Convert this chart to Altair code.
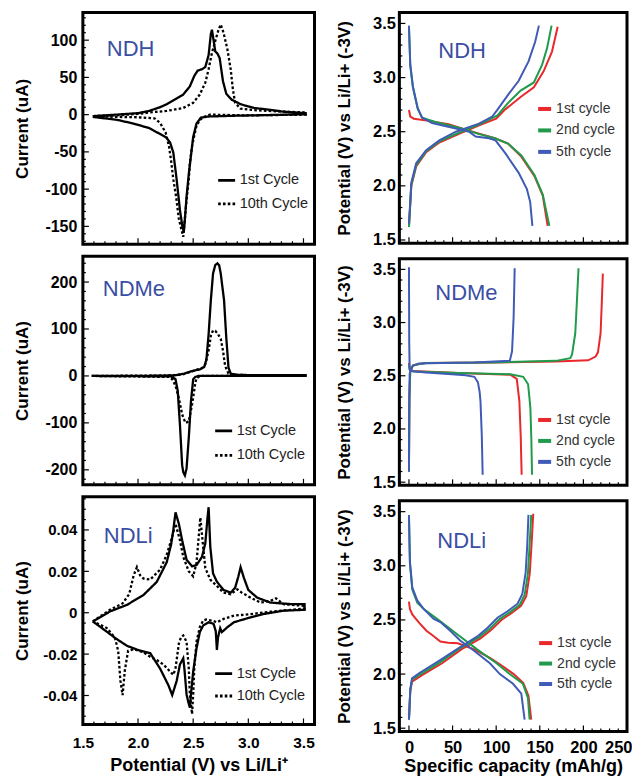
import altair as alt
import pandas as pd

FONT = "Liberation Sans, Arial, Helvetica, sans-serif"

# ---------------- CV data (potential V, current) ----------------
ndh_1st_up = [(1.59, -2), (1.80, 0), (2.00, 2), (2.10, 5), (2.20, 10), (2.26, 14), (2.33, 20), (2.41, 27),
              (2.47, 38), (2.51, 52), (2.54, 59), (2.58, 61), (2.61, 64), (2.64, 80), (2.66, 108), (2.67, 114),
              (2.685, 100), (2.70, 85), (2.72, 82), (2.74, 76), (2.77, 45), (2.80, 28), (2.85, 20), (2.93, 14),
              (3.05, 9), (3.17, 7), (3.32, 4), (3.52, 2)]
ndh_1st_dn = [(3.52, 0.5), (3.2, -0.5), (2.87, -1.5), (2.64, -2.5), (2.57, -4), (2.53, -12), (2.50, -30),
              (2.48, -55), (2.46, -80), (2.44, -110), (2.425, -140), (2.415, -158), (2.40, -148), (2.38, -128),
              (2.35, -87), (2.32, -51), (2.29, -37), (2.25, -30), (2.20, -26), (2.10, -18), (1.96, -12),
              (1.81, -7), (1.59, -3)]
ndh_10th_up = [(1.59, -2), (1.80, -1), (2.00, 1), (2.11, 3), (2.26, 5), (2.41, 9), (2.50, 16), (2.56, 27),
               (2.61, 43), (2.64, 61), (2.67, 83), (2.70, 99), (2.73, 114), (2.75, 121), (2.775, 110),
               (2.81, 88), (2.84, 61), (2.86, 34), (2.88, 16), (2.93, 8), (3.05, 6), (3.32, 4), (3.52, 3)]
ndh_10th_dn = [(3.52, 0), (3.0, -1), (2.65, 0), (2.60, -3), (2.56, -7), (2.53, -15), (2.51, -28), (2.49, -42),
               (2.47, -65), (2.46, -87), (2.44, -115), (2.43, -131), (2.41, -164), (2.39, -152), (2.37, -140),
               (2.345, -110), (2.32, -87), (2.30, -62), (2.28, -42), (2.25, -24), (2.20, -11), (2.15, -5),
               (2.0, -3.5), (1.8, -3), (1.59, -2)]

ndme_1st_up = [(1.58, 0), (2.00, 0), (2.30, 1), (2.35, 2), (2.42, 5), (2.47, 9), (2.52, 12), (2.56, 14),
               (2.60, 19), (2.62, 35), (2.64, 89), (2.66, 161), (2.68, 218), (2.70, 236), (2.72, 240),
               (2.735, 236), (2.75, 218), (2.78, 161), (2.80, 82), (2.82, 18), (2.84, 5), (2.90, 2), (3.52, 1.5)]
ndme_1st_dn = [(3.52, 0), (2.55, 0), (2.52, -2), (2.50, -7), (2.48, -54), (2.46, -132), (2.44, -197),
               (2.425, -212), (2.41, -205), (2.40, -190), (2.38, -104), (2.36, -32), (2.34, -7), (2.30, -1),
               (1.58, 0)]
ndme_10th_up = [(1.58, 0), (2.30, 1), (2.40, 3), (2.47, 8), (2.53, 13), (2.58, 17), (2.61, 25), (2.64, 54),
                (2.66, 86), (2.68, 97), (2.70, 96), (2.72, 91), (2.75, 79), (2.77, 54), (2.79, 21), (2.82, 5),
                (2.90, 2), (3.52, 1.5)]
ndme_10th_dn = [(3.52, 0), (2.56, 0), (2.53, -5), (2.52, -14), (2.49, -61), (2.46, -97), (2.43, -100),
                (2.40, -82), (2.37, -47), (2.34, -21), (2.31, -7), (2.28, -2), (1.58, 0)]

ndli_1st_up = [(1.59, -0.0042), (1.745, 0.0006), (1.90, 0.0038), (2.05, 0.0086), (2.17, 0.0149), (2.26, 0.0244),
               (2.30, 0.033), (2.32, 0.040), (2.34, 0.0485), (2.37, 0.043), (2.40, 0.035), (2.44, 0.0256),
               (2.49, 0.0224), (2.53, 0.023), (2.58, 0.027), (2.61, 0.0335), (2.63, 0.046), (2.64, 0.051),
               (2.655, 0.032), (2.68, 0.019), (2.715, 0.015), (2.775, 0.011), (2.84, 0.0097), (2.88, 0.012),
               (2.91, 0.0176), (2.93, 0.022), (2.96, 0.0168), (3.00, 0.011), (3.08, 0.0073), (3.20, 0.0049),
               (3.38, 0.0042), (3.51, 0.0042)]
ndli_1st_dn = [(3.51, 0.0014), (3.32, 0.001), (3.14, -0.0006), (2.99, -0.0027), (2.87, -0.0046), (2.81, -0.007),
               (2.76, -0.0094), (2.745, -0.0075), (2.725, -0.012), (2.715, -0.018), (2.705, -0.009),
               (2.685, -0.0054), (2.64, -0.0046), (2.59, -0.0062), (2.56, -0.0094), (2.53, -0.0173),
               (2.50, -0.0284), (2.48, -0.0395), (2.47, -0.0459), (2.455, -0.043), (2.44, -0.0395),
               (2.42, -0.0268), (2.41, -0.022), (2.38, -0.025), (2.35, -0.033), (2.31, -0.0398), (2.275, -0.035),
               (2.20, -0.027), (2.11, -0.0195), (2.0, -0.018), (1.9, -0.016), (1.8, -0.0125), (1.7, -0.0085),
               (1.59, -0.0042)]
ndli_10th_up = [(1.59, -0.0042), (1.745, 0.0014), (1.86, 0.0045), (1.92, 0.009), (1.96, 0.018), (1.99, 0.022),
                (2.02, 0.018), (2.05, 0.0165), (2.11, 0.016), (2.20, 0.0208), (2.26, 0.028), (2.31, 0.0367),
                (2.34, 0.043), (2.38, 0.035), (2.41, 0.027), (2.46, 0.020), (2.50, 0.0176), (2.53, 0.024),
                (2.55, 0.0367), (2.565, 0.046), (2.59, 0.032), (2.61, 0.0216), (2.655, 0.016), (2.715, 0.0129),
                (2.775, 0.0097), (2.84, 0.0089), (2.90, 0.0113), (2.94, 0.0097), (3.02, 0.0073), (3.11, 0.0049),
                (3.20, 0.0057), (3.25, 0.007), (3.32, 0.0041), (3.51, 0.0033)]
ndli_10th_dn = [(3.51, 0.002), (3.2, 0.0005), (3.0, -0.0008), (2.87, -0.0014), (2.775, -0.003), (2.715, -0.0046),
                (2.67, -0.0038), (2.62, -0.0033), (2.59, -0.0038), (2.56, -0.007), (2.53, -0.0141),
                (2.51, -0.0268), (2.50, -0.0395), (2.49, -0.049), (2.47, -0.0395), (2.46, -0.0268),
                (2.44, -0.014), (2.41, -0.011), (2.39, -0.0118), (2.37, -0.0149), (2.34, -0.0268), (2.32, -0.030),
                (2.29, -0.0284), (2.23, -0.025), (2.17, -0.0229), (2.11, -0.0213), (2.05, -0.0192),
                (1.96, -0.0176), (1.91, -0.0184), (1.88, -0.028), (1.86, -0.0398), (1.84, -0.0327),
                (1.82, -0.0184), (1.79, -0.012), (1.715, -0.0073), (1.59, -0.0042)]

# ---------------- charge / discharge data (capacity mAh/g, potential V) ----------------
r1 = {
    "1st cycle": {
        "d": [(0, 2.70), (1.5, 2.64), (5.7, 2.62), (22.7, 2.60), (45.5, 2.57), (60.6, 2.53), (79.5, 2.485),
              (98.5, 2.44), (113.6, 2.39), (128.8, 2.27), (143.9, 2.09), (153.4, 1.91), (159, 1.63)],
        "c": [(0, 1.62), (2.7, 2.00), (8.3, 2.18), (19.7, 2.31), (34.8, 2.40), (60, 2.49), (82.6, 2.565),
              (100, 2.62), (109.5, 2.70), (128, 2.82), (143.2, 2.91), (154.5, 3.06), (164, 3.24), (170.5, 3.47)],
    },
    "2nd cycle": {
        "d": [(0, 3.46), (1.5, 3.11), (4.5, 2.91), (10, 2.71), (15, 2.63), (30.3, 2.59), (60.6, 2.53),
              (79.5, 2.48), (98.5, 2.44), (113.6, 2.39), (128.8, 2.28), (143.9, 2.10), (153.4, 1.92), (161, 1.63)],
        "c": [(0, 1.62), (2.7, 2.01), (8.3, 2.19), (19.7, 2.32), (34.8, 2.41), (60, 2.50), (82.6, 2.575),
              (101.5, 2.65), (112.9, 2.76), (128, 2.88), (143.2, 2.955), (152.7, 3.12), (158.3, 3.27),
              (163.5, 3.48)],
    },
    "5th cycle": {
        "d": [(0, 3.48), (1.5, 3.12), (4.5, 2.92), (10, 2.72), (15, 2.63), (26.5, 2.58), (53.8, 2.53),
              (68.9, 2.50), (76.5, 2.455), (91.7, 2.44), (99.2, 2.42), (110.6, 2.30), (125.8, 2.12),
              (135.2, 1.97), (139, 1.85), (141.5, 1.63)],
        "c": [(0, 1.65), (2.7, 2.03), (8.3, 2.21), (19.7, 2.33), (34.8, 2.42), (53.8, 2.50), (80.3, 2.575),
              (95.5, 2.64), (101.1, 2.70), (114.4, 2.85), (125.8, 2.97), (137.1, 3.15), (144.7, 3.33),
              (149, 3.48)],
    },
}
r2 = {
    "1st cycle": {
        "d": [(0, 2.62), (1, 2.56), (5, 2.545), (56.6, 2.525), (116.2, 2.51), (123.6, 2.47), (126.6, 2.26),
              (128.1, 1.94), (129.2, 1.57)],
        "c": [(0, 1.60), (0.5, 2.3), (1.5, 2.55), (5, 2.60), (19.4, 2.62), (93.9, 2.625), (168.4, 2.635),
              (205.5, 2.645), (214, 2.68), (216.7, 2.72), (219.7, 2.90), (221.2, 3.21), (222.3, 3.46)],
    },
    "2nd cycle": {
        "d": [(0, 2.60), (1, 2.555), (5, 2.54), (56.6, 2.525), (116.2, 2.515), (131, 2.49), (136.6, 2.42),
              (139.2, 2.20), (140.3, 1.91), (141.1, 1.57)],
        "c": [(0, 1.60), (0.5, 2.3), (1.5, 2.55), (5, 2.60), (19.4, 2.62), (93.9, 2.625), (168.4, 2.64),
              (185, 2.665), (187, 2.70), (190.7, 2.90), (192.6, 3.21), (194.4, 3.51)],
    },
    "5th cycle": {
        "d": [(0, 3.52), (0.3, 2.80), (0.8, 2.56), (3, 2.545), (19.4, 2.53), (49.2, 2.515), (65, 2.505),
              (75, 2.49), (79, 2.44), (81, 2.35), (82, 2.26), (83.5, 1.94), (84.5, 1.57)],
        "c": [(0, 1.60), (0.3, 2.2), (0.8, 2.52), (3.9, 2.59), (11.3, 2.615), (37.4, 2.62), (74.6, 2.625),
              (115.6, 2.64), (118.2, 2.73), (120, 3.05), (121.2, 3.51)],
    },
}
r3 = {
    "1st cycle": {
        "d": [(0, 2.67), (1.1, 2.60), (3.8, 2.55), (7, 2.52), (12, 2.47), (20, 2.40), (28.4, 2.35), (36, 2.30),
              (45, 2.29), (56, 2.285), (73.9, 2.23), (92.8, 2.15), (108, 2.07), (120, 2.00), (131, 1.92),
              (137, 1.80), (140.2, 1.58)],
        "c": [(0, 1.58), (1.5, 1.84), (3.5, 1.93), (15, 1.99), (38, 2.10), (60.5, 2.23), (82, 2.33),
              (94.5, 2.41), (106, 2.50), (117, 2.56), (128.5, 2.63), (134.5, 2.72), (138.5, 2.93),
              (140.5, 3.19), (142.5, 3.48)],
    },
    "2nd cycle": {
        "d": [(0, 3.45), (1.1, 3.02), (3.8, 2.78), (9.5, 2.66), (17, 2.60), (32.2, 2.51), (54.9, 2.37),
              (77.7, 2.23), (100.4, 2.10), (115.5, 2.00), (130.7, 1.91), (136.4, 1.78), (138.3, 1.58)],
        "c": [(0, 1.58), (1.5, 1.85), (3.5, 1.95), (13.3, 2.0), (36, 2.11), (58.7, 2.24), (80.3, 2.34),
              (92.8, 2.42), (104.2, 2.51), (115.5, 2.57), (127, 2.64), (132.6, 2.73), (136.4, 2.93),
              (138.3, 3.19), (140.2, 3.47)],
    },
    "5th cycle": {
        "d": [(0, 3.47), (1.1, 3.04), (3.8, 2.80), (9.5, 2.68), (17, 2.60), (28.4, 2.51), (36, 2.48),
              (47.3, 2.40), (58.7, 2.31), (73.9, 2.22), (92.8, 2.10), (104.2, 2.00), (119.3, 1.91),
              (128.8, 1.82), (130.7, 1.70), (132.6, 1.58)],
        "c": [(0, 1.58), (1.5, 1.86), (3.5, 1.96), (12, 2.01), (34, 2.12), (57, 2.24), (78, 2.345),
              (90.5, 2.43), (101.5, 2.52), (113, 2.58), (124.5, 2.65), (130, 2.74), (133.8, 2.94),
              (135.6, 3.19), (137, 3.47)],
    },
}

CV_CYCLES = ["1st Cycle", "10th Cycle"]
GC_CYCLES = ["1st cycle", "2nd cycle", "5th cycle"]
GC_COLORS = ["#e8282b", "#1f9b4b", "#3f5bb5"]
LABEL_BLUE = "#3a4ea3"

LEFT_X_LABELS = [1.5, 2.0, 2.5, 3.0, 3.5]
RIGHT_X_LABELS = [0, 50, 100, 150, 200, 250]
RIGHT_Y_LABELS = [1.5, 2.0, 2.5, 3.0, 3.5]


def cv_frame(first, tenth):
    rows = []
    for name, pts in ((CV_CYCLES[0], first), (CV_CYCLES[1], tenth)):
        for k, (v, c) in enumerate(pts):
            rows.append({"cycle": name, "v": v, "cur": c, "k": k})
    return pd.DataFrame(rows)


def gc_frame(d):
    rows = []
    for name in GC_CYCLES:
        for seg in ("c", "d"):
            for k, (q, v) in enumerate(d[name][seg]):
                rows.append({"cycle": name, "seg": name + seg, "cap": q, "pot": v, "k": k})
    return pd.DataFrame(rows)


def steps(lo, hi, step):
    n = int(round((hi - lo) / step))
    return [round(lo + i * step, 4) for i in range(n + 1)]


def split_ticks(values, major):
    big = [v for v in values if abs(v / major - round(v / major)) < 1e-6]
    small = [v for v in values if abs(v / major - round(v / major)) >= 1e-6]
    return big, small


def tick_layers(field, scale, axis, values, major, orient, W, H):
    big, small = split_ticks(values, major)
    out = []
    for vals, size in ((big, 6), (small, 3)):
        base = alt.Chart(pd.DataFrame({field: vals})).mark_rule(color="black", strokeWidth=1.2)
        if orient == "x":
            enc = base.encode(x=alt.X(f"{field}:Q", scale=scale, axis=axis),
                              y=alt.value(H), y2=alt.value(H - size))
        else:
            enc = base.encode(y=alt.Y(f"{field}:Q", scale=scale, axis=axis),
                              x=alt.value(0), x2=alt.value(size))
        out.append(enc)
    return out


def label_text(label, x, y):
    return alt.Chart(pd.DataFrame({"t": [label]})).mark_text(
        font=FONT, fontSize=22, color=LABEL_BLUE, align="left", baseline="middle"
    ).encode(x=alt.value(x), y=alt.value(y), text="t:N")


def frame_box(W, H):
    return alt.Chart(pd.DataFrame({"f": [0]})).mark_rect(
        fillOpacity=0, stroke="black", strokeWidth=3
    ).encode(x=alt.value(0), x2=alt.value(W), y=alt.value(0), y2=alt.value(H))


def cv_panel(df, ydom, ylabels, yfmt, yminor, ymajor, ylab_size, label, lab_xy, leg, W, H, bottom):
    xscale = alt.Scale(domain=[1.5, 3.6], nice=False, zero=False)
    yscale = alt.Scale(domain=ydom, nice=False, zero=False)
    if bottom:
        xaxis = alt.Axis(values=LEFT_X_LABELS, format=".1f", title="Potential (V) vs Li/Li\u207a",
                         ticks=False, tickSize=0, domain=False, grid=False, labelFlush=False,
                         labelOverlap=False, labelPadding=11, titlePadding=6, labelFontSize=15.5,
                         titleFontSize=18)
    else:
        xaxis = None
    yaxis = alt.Axis(values=ylabels, format=yfmt, title="Current (uA)", ticks=False, tickSize=0, domain=False,
                     grid=False, labelOverlap=False, labelPadding=6, labelFontSize=ylab_size, titleFontSize=17,
                     labelExpr="replace(datum.label, '\u2212', '-')", minExtent=42, maxExtent=42,
                     titlePadding=9)
    lines = alt.Chart(df).mark_line(color="black", strokeWidth=2.3, clip=True).encode(
        x=alt.X("v:Q", scale=xscale, axis=xaxis),
        y=alt.Y("cur:Q", scale=yscale, axis=yaxis),
        strokeDash=alt.StrokeDash(
            "cycle:N",
            scale=alt.Scale(domain=CV_CYCLES, range=[[1, 0], [2.6, 2.2]]),
            legend=alt.Legend(orient="none", legendX=leg[0], legendY=leg[1], title=None, symbolType="stroke",
                              symbolSize=289, symbolStrokeWidth=2.8, symbolStrokeColor="black",
                              labelFont=FONT, labelFontSize=14.5, labelColor="#222222", rowPadding=leg[2],
                              labelOffset=3, padding=0),
        ),
        order="k:Q",
    )
    xt = steps(1.5, 3.5, 0.1)
    layers = [frame_box(W, H), lines]
    layers += tick_layers("v", xscale, xaxis, xt, 0.5, "x", W, H)
    layers += tick_layers("cur", yscale, yaxis, yminor, ymajor, "y", W, H)
    layers.append(label_text(label, lab_xy[0], lab_xy[1]))
    return alt.layer(*layers).properties(width=W, height=H)


def gc_panel(d, label, lab_xy, leg, W, H, bottom):
    df = gc_frame(d)
    xscale = alt.Scale(domain=[-11, 250], nice=False, zero=False)
    yscale = alt.Scale(domain=[1.47, 3.6], nice=False, zero=False)
    if bottom:
        xaxis = alt.Axis(values=RIGHT_X_LABELS, format="d", title="Specific capacity (mAh/g)",
                         ticks=False, tickSize=0, domain=False, grid=False, labelFlush=True,
                         labelFlushOffset=5, labelOverlap=False, labelPadding=8, titlePadding=2,
                         labelFontSize=16.5, titleFontSize=18)
    else:
        xaxis = None
    yaxis = alt.Axis(values=RIGHT_Y_LABELS, format=".1f", title="Potential (V) vs Li/Li+ (-3V)", ticks=False,
                     tickSize=0, domain=False, grid=False, labelOverlap=False, labelPadding=4,
                     labelFontSize=16.5, titleFontSize=17, minExtent=30, maxExtent=30, titlePadding=15.5)
    lines = alt.Chart(df).mark_line(strokeWidth=2, clip=True).encode(
        x=alt.X("cap:Q", scale=xscale, axis=xaxis),
        y=alt.Y("pot:Q", scale=yscale, axis=yaxis),
        color=alt.Color(
            "cycle:N",
            scale=alt.Scale(domain=GC_CYCLES, range=GC_COLORS),
            legend=alt.Legend(orient="none", legendX=leg[0], legendY=leg[1], title=None, symbolType="stroke",
                              symbolSize=169, symbolStrokeWidth=4, labelFont=FONT, labelFontSize=14,
                              labelColor="#333333", rowPadding=leg[2], labelOffset=3, padding=0),
        ),
        detail="seg:N",
        order="k:Q",
    )
    layers = [frame_box(W, H), lines]
    layers += tick_layers("cap", xscale, xaxis, steps(-10, 250, 10), 50, "x", W, H)
    layers += tick_layers("pot", yscale, yaxis, steps(1.5, 3.5, 0.1), 0.5, "y", W, H)
    layers.append(label_text(label, lab_xy[0], lab_xy[1]))
    return alt.layer(*layers).properties(width=W, height=H)


LW = 232
RW = 228

p1 = cv_panel(cv_frame(ndh_1st_up + ndh_1st_dn, ndh_10th_up + ndh_10th_dn), [-174, 137],
              [-150, -100, -50, 0, 50, 100], "d", steps(-170, 130, 10), 50, 16, "NDH", (24, 36),
              (134, 158, 6.5), LW, 232, False)
p2 = cv_panel(cv_frame(ndme_1st_up + ndme_1st_dn, ndme_10th_up + ndme_10th_dn), [-232, 255],
              [-200, -100, 0, 100, 200], "d", steps(-220, 240, 20), 100, 16, "NDMe", (20, 33),
              (131, 165, 7.5), LW, 229, False)
p3 = cv_panel(cv_frame(ndli_1st_up + ndli_1st_dn, ndli_10th_up + ndli_10th_dn), [-0.054, 0.056],
              [-0.04, -0.02, 0, 0.02, 0.04], ".2~f", steps(-0.05, 0.055, 0.005), 0.02, 15, "NDLi", (21, 39),
              (131, 167, 5.5), LW, 228, True)

q1 = gc_panel(r1, "NDH", (39, 38), (137, 88, 4.5), RW, 231, False)
q2 = gc_panel(r2, "NDMe", (36, 34), (137, 153, 4), RW, 227, False)
q3 = gc_panel(r3, "NDLi", (38, 40), (138, 134, 3.5), RW, 231, True)

left = alt.vconcat(p1, p2, p3, spacing=8).resolve_scale(
    strokeDash="independent").resolve_legend(strokeDash="independent")
right = alt.vconcat(q1, q2, q3, spacing=7.5).resolve_scale(
    color="independent").resolve_legend(color="independent")

chart = alt.hconcat(left, right, spacing=19).resolve_scale(
    color="independent", strokeDash="independent"
).resolve_legend(color="independent", strokeDash="independent").properties(
    padding={"left": 6, "top": 2, "right": 0, "bottom": 0}, background="white"
).configure_view(stroke=None).configure_axis(
    labelFont=FONT, titleFont=FONT, labelFontWeight="bold", titleFontWeight="bold",
    labelColor="black", titleColor="black"
)

chart.save("out.html", embed_options={"renderer": "svg", "actions": False})
